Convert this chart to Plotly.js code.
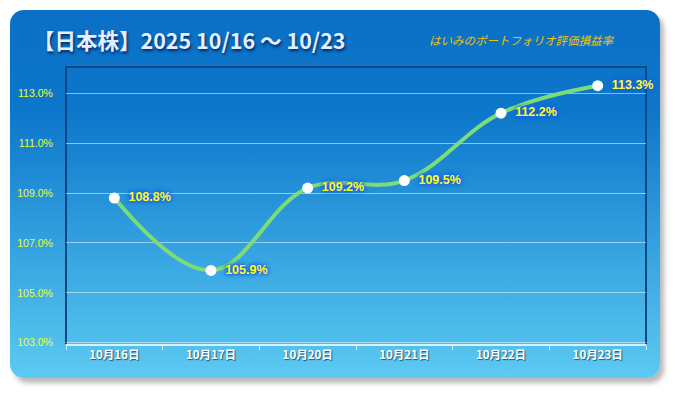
<!DOCTYPE html>
<html>
<head>
<meta charset="utf-8">
<script src="https://cdn.plot.ly/plotly-3.0.1.min.js"></script>
<style>
html,body{margin:0;padding:0;background:#fff;}
#wrap{position:relative;width:675px;height:393px;}
#card{position:absolute;left:10px;top:10px;width:650px;height:368px;border-radius:14px;
background:linear-gradient(to bottom,#0a70c6 0%,#0d77cb 28%,#2f9ddd 60%,#5ccaf2 100%);
box-shadow:4px 5px 5px rgba(0,0,0,0.28);}
#chart{position:absolute;left:0;top:0;width:675px;height:393px;}
</style>
</head>
<body>
<div id="wrap"><div id="card"></div><div id="chart"></div></div>
<script>
const categories = ["10月16日","10月17日","10月20日","10月21日","10月22日","10月23日"];
const values = [108.8, 105.9, 109.2, 109.5, 112.2, 113.3];
const labels = ["108.8%","105.9%","109.2%","109.5%","112.2%","113.3%"];
const yTicks = [103,105,107,109,111,113];
const yTickText = ["103.0%","105.0%","107.0%","109.0%","111.0%","113.0%"];

const trace = {
  x: categories, y: values, type: "scatter", mode: "lines+markers+text",
  line: {shape: "spline", smoothing: 1.1, color: "#7ddb78", width: 4},
  marker: {size: 11, color: "#ffffff", line: {width: 0}},
  text: labels, texttemplate: "\u2002%{text}", textposition: "middle right",
  textfont: {family: "Liberation Sans, Arial", size: 12.5, color: "#ffff1a", weight: "bold",
             shadow: "0px 0px 3px #1d5de6, 0px 0px 4px #1d5de6, 0px 0px 5px #1d5de6"},
  cliponaxis: false, hoverinfo: "skip"
};

const layout = {
  width: 675, height: 393,
  paper_bgcolor: "rgba(0,0,0,0)", plot_bgcolor: "rgba(0,0,0,0)",
  margin: {l: 66, r: 29, t: 67, b: 49},
  showlegend: false,
  title: {text: "【日本株】2025 10/16 ～ 10/23", x: 33/675, xanchor: "left", y: 1-41/393, yanchor: "middle",
          font: {family: "Noto Sans CJK JP", size: 21.5, color: "#e2f0ff", weight: "bold",
                 shadow: "1px 2px 3px rgba(0,0,50,0.7)"}},
  xaxis: {type: "category", range: [-0.5, 5.5], showgrid: false, zeroline: false,
          showline: true, linecolor: "#d8f2ff", linewidth: 1.5,
          ticks: "outside", tickson: "boundaries", ticklen: 4, tickcolor: "#d8f2ff",
          tickfont: {family: "Noto Sans CJK JP", size: 11.5, color: "#ffffff", weight: "bold",
                     shadow: "1px 1px 1px rgba(0,0,0,0.55)"}},
  yaxis: {range: [102.95, 114.05], tickvals: yTicks, ticktext: yTickText,
          showgrid: true, gridcolor: "rgba(220,240,255,0.6)", gridwidth: 1, zeroline: false,
          showline: false, ticks: "outside", ticklen: 10, tickcolor: "rgba(0,0,0,0)",
          tickfont: {family: "Liberation Sans, Arial", size: 10.5, color: "#eaff2a"}},
  shapes: [{type: "path", xref: "paper", yref: "paper", layer: "below", path: "M 0,0 L 0,1 L 1,1 L 1,0",
            line: {color: "#0b4780", width: 2}}],
  annotations: [{text: "はいみのポートフォリオ評価損益率", xref: "paper", yref: "paper",
                 x: (521-66)/580, y: 1 + (67-40)/277, xanchor: "center", yanchor: "middle",
                 showarrow: false,
                 font: {family: "Noto Sans CJK JP", size: 11.5, color: "#f3c200", style: "italic"}}]
};

Plotly.newPlot("chart", [trace], layout, {displayModeBar: false, staticPlot: true});
</script>
</body>
</html>
